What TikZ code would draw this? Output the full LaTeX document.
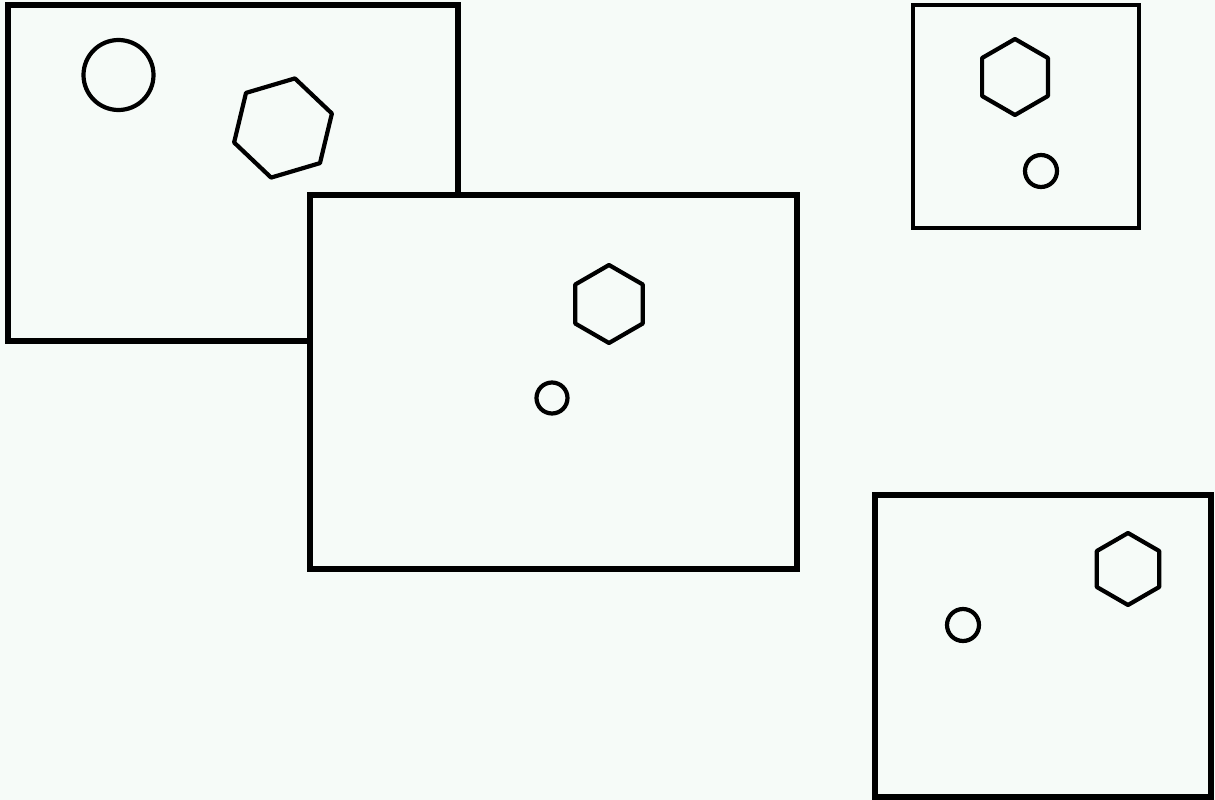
\documentclass[tikz,border=0pt]{standalone}
\begin{document}
\begin{tikzpicture}[x=1pt,y=-1pt,
  frame/.style={draw=black,line width=5.2pt,fill=bgc},
  shp/.style={draw=black,line width=4.2pt,line join=round}]
\definecolor{bgc}{HTML}{F6FBF8}
\fill[bgc] (0,0) rectangle (1215,800);
\useasboundingbox (0,0) rectangle (1215,800);
% top-left panel
\draw[frame,line width=5.8pt] (8,5) rectangle (458,341);
\draw[shp] (118.5,75) circle[radius=35pt];
\draw[shp] (283,128) +(76.5:51pt) -- +(16.5:51pt) -- +(-43.5:51pt) -- +(-103.5:51pt) -- +(-163.5:51pt) -- +(136.5:51pt) -- cycle;
% middle panel
\draw[frame] (310,195) rectangle (797,569);
\draw[shp] (609,304) +(90:39pt) -- +(30:39pt) -- +(-30:39pt) -- +(-90:39pt) -- +(-150:39pt) -- +(150:39pt) -- cycle;
\draw[shp] (552,398) circle[radius=15.5pt];
% top-right panel
\draw[frame,line width=4.6pt] (913,5) rectangle (1139,228);
\draw[shp] (1015,77) +(90:38pt) -- +(30:38pt) -- +(-30:38pt) -- +(-90:38pt) -- +(-150:38pt) -- +(150:38pt) -- cycle;
\draw[shp] (1041,171) circle[radius=16pt];
% bottom-right panel
\draw[frame] (875,495) rectangle (1211,797);
\draw[shp] (1128,569) +(90:36pt) -- +(30:36pt) -- +(-30:36pt) -- +(-90:36pt) -- +(-150:36pt) -- +(150:36pt) -- cycle;
\draw[shp] (963,625) circle[radius=16pt];
\end{tikzpicture}
\end{document}
